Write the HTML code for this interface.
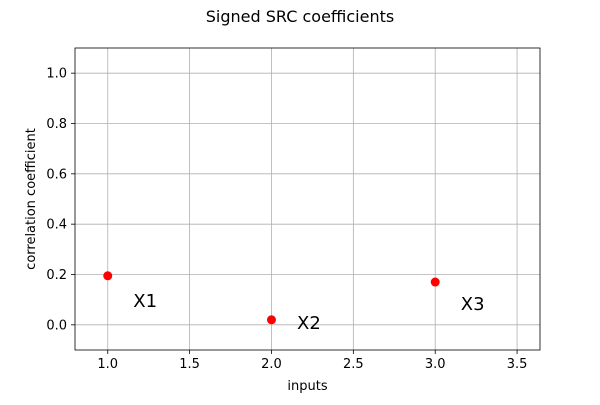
<!DOCTYPE html>
<html><head><meta charset="utf-8"><style>
body{margin:0;background:#fff;font-family:"Liberation Sans","DejaVu Sans",sans-serif}
svg text{font-family:"DejaVu Sans","Liberation Sans",sans-serif}
</style></head><body>
<svg id="chart" width="600" height="400" xmlns="http://www.w3.org/2000/svg"></svg>
<script>
const categories = ["X1","X2","X3"];
const xValues = [1, 2, 3];
const srcValues = [0.195, 0.02, 0.17];
const xTicks = [1.0, 1.5, 2.0, 2.5, 3.0, 3.5];
const yTicks = [0.0, 0.2, 0.4, 0.6, 0.8, 1.0];

const L=75,R=540,T=48,B=350;
const xMin=0.8,xMax=3.64,yMin=-0.1,yMax=1.1;
const sx=v=>L+(v-xMin)/(xMax-xMin)*(R-L);
const sy=v=>B-(v-yMin)/(yMax-yMin)*(B-T);
const svg=document.getElementById('chart');
const NS='http://www.w3.org/2000/svg';
function mk(tag,attrs,txt){const e=document.createElementNS(NS,tag);for(const k in attrs)e.setAttribute(k,attrs[k]);if(txt!=null)e.textContent=txt;svg.appendChild(e);return e;}

let t=mk('text',{x:300,y:22,'text-anchor':'middle','font-size':16},'Signed SRC coefficients');



xTicks.forEach(v=>{
  const g=mk('line',{x1:sx(v),x2:sx(v),y1:T,y2:B,stroke:'#b0b0b0','stroke-width':0.8});
  
  
  mk('line',{x1:sx(v),x2:sx(v),y1:B,y2:B+4,stroke:'#000','stroke-width':0.8});
  const l=mk('text',{x:sx(v),y:B+18,'text-anchor':'middle','font-size':13},v.toFixed(1));
  
  
});
yTicks.forEach(v=>{
  const g=mk('line',{x1:L,x2:R,y1:sy(v),y2:sy(v),stroke:'#b0b0b0','stroke-width':0.8});
  
  
  mk('line',{x1:L-4,x2:L,y1:sy(v),y2:sy(v),stroke:'#000','stroke-width':0.8});
  const l=mk('text',{x:L-8,y:sy(v)+4.5,'text-anchor':'end','font-size':13},v.toFixed(1));
  
  
});
const fr=mk('rect',{x:L,y:T,width:R-L,height:B-T,fill:'none',stroke:'#000','stroke-width':0.8});



xValues.forEach((x,i)=>{
  const c=mk('circle',{cx:sx(x),cy:sy(srcValues[i]),r:4.5,fill:'#ff0000'});
  
  
  const l=mk('text',{x:sx(x+0.15)+1,y:sy(srcValues[i]/2)+6.5,'font-size':18},categories[i]);
  
  
});

const xt=mk('text',{x:(L+R)/2,y:390,'text-anchor':'middle','font-size':13},'inputs');


const yt=mk('text',{x:0,y:0,'text-anchor':'middle','font-size':13,transform:`translate(35,${(T+B)/2}) rotate(-90)`},'correlation coefficient');


</script>
</body></html>
